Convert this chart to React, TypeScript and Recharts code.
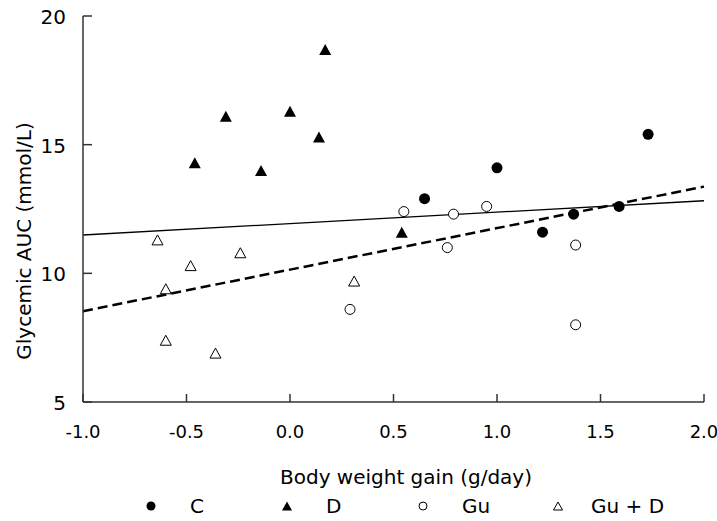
import React from 'react';
import { ScatterChart, Scatter, XAxis, YAxis, ReferenceLine, Label } from 'recharts';

const cData = [
  { x: 0.65, y: 12.9 }, { x: 1.0, y: 14.1 }, { x: 1.22, y: 11.6 },
  { x: 1.37, y: 12.3 }, { x: 1.59, y: 12.6 }, { x: 1.73, y: 15.4 },
];
const dData = [
  { x: -0.46, y: 14.3 }, { x: -0.31, y: 16.1 }, { x: -0.14, y: 14.0 },
  { x: 0.0, y: 16.3 }, { x: 0.14, y: 15.3 }, { x: 0.17, y: 18.7 }, { x: 0.54, y: 11.6 },
];
const guData = [
  { x: 0.29, y: 8.6 }, { x: 0.55, y: 12.4 }, { x: 0.76, y: 11.0 }, { x: 0.79, y: 12.3 },
  { x: 0.95, y: 12.6 }, { x: 1.38, y: 11.1 }, { x: 1.38, y: 8.0 },
];
const gudData = [
  { x: -0.64, y: 11.3 }, { x: -0.6, y: 9.4 }, { x: -0.6, y: 7.4 }, { x: -0.48, y: 10.3 },
  { x: -0.36, y: 6.9 }, { x: -0.24, y: 10.8 }, { x: 0.31, y: 9.7 },
];
const solidLine = [{ x: -1, y: 11.49 }, { x: 2, y: 12.82 }];
const dashedLine = [{ x: -1, y: 8.53 }, { x: 2, y: 13.37 }];
const xTicks = [-1, -0.5, 0, 0.5, 1, 1.5, 2];
const yTicks = [5, 10, 15, 20];
const legendItems = ['C', 'D', 'Gu', 'Gu + D'];

const FONT = '"DejaVu Sans", Verdana, sans-serif';
const AXIS = '#333';

const FilledCircle = (p: any) => <circle cx={p.cx} cy={p.cy} r={5.5} fill="#000" />;
const OpenCircle = (p: any) => <circle cx={p.cx} cy={p.cy} r={5} fill="#fff" stroke="#000" strokeWidth={1} />;
const tri = (cx: number, cy: number, w: number, h: number) =>
  `M${cx},${cy - h / 2} L${cx + w / 2},${cy + h / 2} L${cx - w / 2},${cy + h / 2} Z`;
const FilledTri = (p: any) => <path d={tri(p.cx, p.cy, 12, 11)} fill="#000" />;
const OpenTri = (p: any) => <path d={tri(p.cx, p.cy, 11, 10)} fill="#fff" stroke="#000" strokeWidth={1} />;

const XTick = (p: any) => (
  <g>
    <line x1={p.x} x2={p.x} y1={p.y} y2={p.y - 8} stroke={AXIS} strokeWidth={1.5} />
    <text x={p.x} y={p.y + 36} textAnchor="middle" fontFamily={FONT} fontSize={18} fill="#000">
      {Number(p.payload.value).toFixed(1)}
    </text>
  </g>
);
const YTick = (p: any) => (
  <g>
    <line x1={p.x} x2={p.x + 9} y1={p.y} y2={p.y} stroke={AXIS} strokeWidth={1.5} />
    <text x={p.x - 17} y={p.y + 8} textAnchor="end" fontFamily={FONT} fontSize={20} fill="#000">
      {p.payload.value}
    </text>
  </g>
);

const legendMarker = (i: number) => {
  if (i === 0) return <circle cx={6} cy={6} r={4.5} fill="#000" />;
  if (i === 1) return <path d={tri(6, 6, 10, 9)} fill="#000" />;
  if (i === 2) return <circle cx={6} cy={6} r={4} fill="#fff" stroke="#000" strokeWidth={1} />;
  return <path d={tri(6, 6, 9, 8)} fill="#fff" stroke="#000" strokeWidth={1} />;
};
const legendMarkerX = [145, 281, 417, 552];
const legendTextX = [190, 326, 462, 591];

export default function App() {
  return (
    <div style={{ position: 'absolute', left: 0, top: 0, width: 717, height: 521, background: '#fff' }}>
      <ScatterChart width={717} height={521} margin={{ top: 16, right: 13, bottom: 79, left: 23 }}>
        <XAxis
          type="number"
          dataKey="x"
          domain={[-1, 2]}
          ticks={xTicks}
          interval={0}
          height={40}
          tickSize={0}
          tickMargin={0}
          tickLine={false}
          tick={<XTick />}
          axisLine={{ stroke: AXIS, strokeWidth: 1.5 }}
        >
          <Label
            content={(props: any) => {
              const vb = props.viewBox;
              return (
                <text x={406} y={vb.y + 82} textAnchor="middle" fontFamily={FONT} fontSize={20} fill="#000">
                  Body weight gain (g/day)
                </text>
              );
            }}
          />
        </XAxis>
        <YAxis
          type="number"
          dataKey="y"
          domain={[5, 20]}
          ticks={yTicks}
          interval={0}
          width={60}
          tickSize={0}
          tickMargin={0}
          tickLine={false}
          tick={<YTick />}
          axisLine={{ stroke: AXIS, strokeWidth: 1.5 }}
        >
          <Label
            content={() => (
              <text
                x={31}
                y={241}
                transform="rotate(-90 31 241)"
                textAnchor="middle"
                fontFamily={FONT}
                fontSize={20}
                fill="#000"
              >
                Glycemic AUC (mmol/L)
              </text>
            )}
          />
        </YAxis>
        <ReferenceLine segment={solidLine} stroke="#000" strokeWidth={1.3} ifOverflow="visible" />
        <ReferenceLine segment={dashedLine} stroke="#000" strokeWidth={2.5} strokeDasharray="10 5" ifOverflow="visible" />
        <Scatter data={cData} shape={<FilledCircle />} isAnimationActive={false} />
        <Scatter data={dData} shape={<FilledTri />} isAnimationActive={false} />
        <Scatter data={guData} shape={<OpenCircle />} isAnimationActive={false} />
        <Scatter data={gudData} shape={<OpenTri />} isAnimationActive={false} />
      </ScatterChart>
      {legendItems.map((name, i) => (
        <React.Fragment key={name}>
          <svg
            width={12}
            height={12}
            style={{ position: 'absolute', left: legendMarkerX[i], top: 500 }}
          >
            {legendMarker(i)}
          </svg>
          <div
            style={{
              position: 'absolute',
              left: legendTextX[i],
              top: 494,
              fontFamily: FONT,
              fontSize: 20,
              lineHeight: '24px',
              color: '#000',
              whiteSpace: 'pre',
            }}
          >
            {name}
          </div>
        </React.Fragment>
      ))}
    </div>
  );
}
